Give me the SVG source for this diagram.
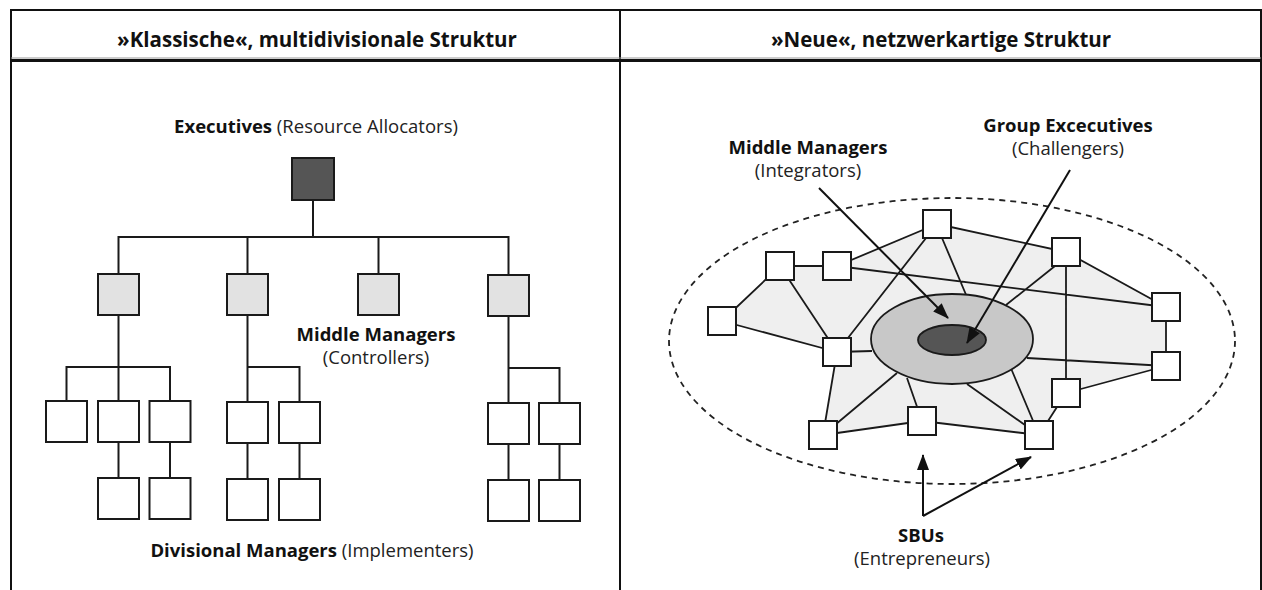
<svg xmlns="http://www.w3.org/2000/svg" width="1262" height="590" viewBox="0 0 1262 590">
<defs>
<style>
.frame{stroke:#111;stroke-width:2;fill:none}
.ln{stroke:#1a1a1a;stroke-width:2;fill:none;stroke-linecap:square}
.nl{stroke:#1a1a1a;stroke-width:1.8;fill:none}
.box{fill:#fff;stroke:#1a1a1a;stroke-width:2}
.mid{fill:#e2e2e2;stroke:#1a1a1a;stroke-width:2}
.exe{fill:#555;stroke:#1a1a1a;stroke-width:2}
.hd{font-family:"Open Sans","Noto Sans",sans-serif;font-weight:bold;font-size:20.5px;fill:#111;text-anchor:middle}
.lb{font-family:"Open Sans","Noto Sans",sans-serif;font-size:18.5px;fill:#222}
.b{font-weight:bold;fill:#111}
.mc{text-anchor:middle}
.arr{stroke:#111;stroke-width:2;fill:none}
</style>
<marker id="ah" viewBox="0 0 16 12" refX="15" refY="6" markerWidth="16" markerHeight="12" markerUnits="userSpaceOnUse" orient="auto">
<path d="M0,0 L16,6 L0,12 z" fill="#111"/>
</marker>
</defs>
<rect width="1262" height="590" fill="#fff"/>
<g id="frame">
<path class="frame" d="M11,600 V10 H1261 V600"/>
<line class="frame" x1="620" y1="10" x2="620" y2="600"/>
<line x1="11" y1="60.5" x2="1261" y2="60.5" stroke="#111" stroke-width="3"/>
<line x1="11" y1="58" x2="1261" y2="58" stroke="#999" stroke-width="1"/>
</g>
<g id="headers">
<text class="hd" x="317" y="47">»Klassische«, multidivisionale Struktur</text>
<text class="hd" x="941" y="47">»Neue«, netzwerkartige Struktur</text>
</g>
<g id="connectors-left">
<path class="ln" d="M313,200 V237 M118.5,237 H508.5 M118.5,237 V274 M247.5,237 V274 M378.5,237 V274 M508.5,237 V275"/>
<path class="ln" d="M118.5,315 V401 M66.5,367 H170 M66.5,367 V401 M170,367 V401 M118.5,442 V478 M170,442 V478"/>
<path class="ln" d="M247.5,315 V402 M247.5,367 H299.5 V402 M247.5,443 V479 M299.5,443 V479"/>
<path class="ln" d="M508.5,316 V403 M508.5,368 H559.5 V403 M508.5,444 V480 M559.5,444 V480"/>
</g>
<g id="exec"><rect class="exe" x="292" y="158" width="42" height="42"/></g>
<g id="mm1"><rect class="mid" x="98" y="274" width="41" height="41"/></g>
<g id="mm2"><rect class="mid" x="227" y="274" width="41" height="41"/></g>
<g id="mm3"><rect class="mid" x="358" y="274" width="41" height="41"/></g>
<g id="mm4"><rect class="mid" x="488" y="275" width="41" height="41"/></g>
<g id="d1a"><rect class="box" x="46" y="401" width="41" height="41"/></g>
<g id="d1b"><rect class="box" x="98" y="401" width="41" height="41"/></g>
<g id="d1c"><rect class="box" x="149.5" y="401" width="41" height="41"/></g>
<g id="d1d"><rect class="box" x="98" y="478" width="41" height="41"/></g>
<g id="d1e"><rect class="box" x="149.5" y="478" width="41" height="41"/></g>
<g id="d2a"><rect class="box" x="227" y="402" width="41" height="41"/></g>
<g id="d2b"><rect class="box" x="279" y="402" width="41" height="41"/></g>
<g id="d2c"><rect class="box" x="227" y="479" width="41" height="41"/></g>
<g id="d2d"><rect class="box" x="279" y="479" width="41" height="41"/></g>
<g id="d4a"><rect class="box" x="488" y="403" width="41" height="41"/></g>
<g id="d4b"><rect class="box" x="539" y="403" width="41" height="41"/></g>
<g id="d4c"><rect class="box" x="488" y="480" width="41" height="41"/></g>
<g id="d4d"><rect class="box" x="539" y="480" width="41" height="41"/></g>
<g id="labels-left">
<text class="lb mc" x="316" y="133"><tspan class="b">Executives</tspan> (Resource Allocators)</text>
<text class="lb mc b" x="376" y="341">Middle Managers</text>
<text class="lb mc" x="376" y="364">(Controllers)</text>
<text class="lb mc" x="312" y="557"><tspan class="b">Divisional Managers</tspan> (Implementers)</text>
</g>
<g id="network">
<ellipse cx="952" cy="341" rx="283" ry="143" fill="none" stroke="#222" stroke-width="1.8" stroke-dasharray="6 5"/>
<polygon points="722,321 780,266 837,266 937,224 1066,252 1166,307 1166,366 1066,393 1039,435 922,421 823,435 837,352" fill="#efefef"/>
</g>
<g id="connectors-right">
<path class="nl" d="M780,266 L837,266 M780,266 L722,321 M780,266 L837,352 M837,266 L937,224 M837,266 L1166,307 M937,224 L1066,252 M937,224 L837,352 M942,238 L967,297 M1066,252 L1166,307 M1066,252 L1066,393 M1060,262 L1006,305 M722,321 L837,352 M837,352 L872,351 M837,352 L823,435 M1166,307 L1166,366 M1166,366 L1066,393 M1027,358 L1166,366 M1066,393 L1039,435 M823,435 L922,421 M823,435 L897,373 M922,421 L907,378 M922,421 L1039,435 M1039,435 L967,384 M1039,435 L1010,366"/>
</g>
<g id="core">
<ellipse cx="952" cy="339" rx="81" ry="45" fill="#c8c8c8" stroke="#1a1a1a" stroke-width="1.8"/>
<ellipse cx="952" cy="340" rx="34" ry="15" fill="#555" stroke="#1a1a1a" stroke-width="1.8"/>
</g>
<g id="nA"><rect class="box" x="923" y="210" width="28" height="28"/></g>
<g id="nB"><rect class="box" x="766" y="252" width="28" height="28"/></g>
<g id="nC"><rect class="box" x="823" y="252" width="28" height="28"/></g>
<g id="nD"><rect class="box" x="1052" y="238" width="28" height="28"/></g>
<g id="nE"><rect class="box" x="708" y="307" width="28" height="28"/></g>
<g id="nF"><rect class="box" x="823" y="338" width="28" height="28"/></g>
<g id="nG"><rect class="box" x="1152" y="293" width="28" height="28"/></g>
<g id="nH"><rect class="box" x="1152" y="352" width="28" height="28"/></g>
<g id="nI"><rect class="box" x="1052" y="379" width="28" height="28"/></g>
<g id="nJ"><rect class="box" x="908" y="407" width="28" height="28"/></g>
<g id="nK"><rect class="box" x="809" y="421" width="28" height="28"/></g>
<g id="nL"><rect class="box" x="1025" y="421" width="28" height="28"/></g>
<g id="arrows">
<line class="arr" x1="819" y1="188" x2="948" y2="318" marker-end="url(#ah)"/>
<line class="arr" x1="1070" y1="170" x2="967" y2="343" marker-end="url(#ah)"/>
<path class="arr" d="M923,516 V455" marker-end="url(#ah)"/>
<path class="arr" d="M923,516 L1031,457" marker-end="url(#ah)"/>
</g>
<g id="labels-right">
<text class="lb mc b" x="808" y="154">Middle Managers</text>
<text class="lb mc" x="808" y="177">(Integrators)</text>
<text class="lb mc b" x="1068" y="132">Group Excecutives</text>
<text class="lb mc" x="1068" y="155">(Challengers)</text>
<text class="lb mc b" x="921" y="542">SBUs</text>
<text class="lb mc" x="922" y="565">(Entrepreneurs)</text>
</g>
</svg>
